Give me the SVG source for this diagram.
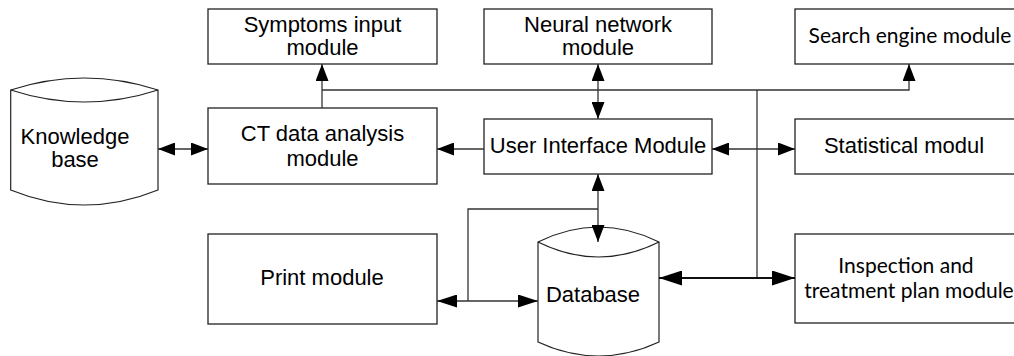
<svg xmlns="http://www.w3.org/2000/svg" width="1014" height="356" viewBox="0 0 1014 356">
<style>
.box{fill:#fff;stroke:#222;stroke-width:1.3}
.cyl{fill:#fff;stroke:#222;stroke-width:1.2}
.t{font-family:"Liberation Sans",Arial,sans-serif;font-size:22px;fill:#000;text-anchor:middle}
.c{font-family:Lato,"Open Sans",sans-serif;font-size:21px;fill:#000;text-anchor:middle}
.ln{fill:none;stroke:#333;stroke-width:1.3}
.thick{fill:none;stroke:#111;stroke-width:2.2}
</style>
<defs>
<marker id="ah" markerUnits="userSpaceOnUse" markerWidth="17" markerHeight="13" refX="17" refY="6.5" orient="auto-start-reverse"><path d="M0,0 L17,6.5 L0,13 Z" fill="#000"/></marker>
<marker id="ahL" markerUnits="userSpaceOnUse" markerWidth="20" markerHeight="13" refX="20" refY="6.5" orient="auto-start-reverse"><path d="M0,0 L20,6.5 L0,13 Z" fill="#000"/></marker>
<marker id="ahT" markerUnits="userSpaceOnUse" markerWidth="23" markerHeight="15" refX="23" refY="7.5" orient="auto-start-reverse"><path d="M0,0 L23,7.5 L0,15 Z" fill="#000"/></marker>
</defs>
<rect width="1014" height="356" fill="#fff"/>

<g id="knowledge-base">
<path class="cyl" d="M10.7,90 Q84.3,66 158,90 L158,190 Q84.3,220 10.7,190 Z"/>
<path class="cyl" d="M10.7,90 Q84.3,114 158,90" fill="none"/>
<text class="t" x="75" y="144">Knowledge</text>
<text class="t" x="75" y="167">base</text>
</g>

<g id="symptoms">
<rect class="box" x="208" y="9" width="229" height="55"/>
<text class="t" x="322.5" y="32">Symptoms input</text>
<text class="t" x="322.5" y="55">module</text>
</g>

<g id="neural">
<rect class="box" x="484" y="9" width="228" height="55"/>
<text class="t" x="598" y="32">Neural network</text>
<text class="t" x="598" y="55">module</text>
</g>

<g id="search">
<rect class="box" x="795" y="9" width="222" height="55"/>
<text class="c" x="910" y="43">Search engine module</text>
</g>

<g id="ct">
<rect class="box" x="208" y="108" width="229" height="76"/>
<text class="t" x="322.5" y="141">CT data analysis</text>
<text class="t" x="322.5" y="166">module</text>
</g>

<g id="ui">
<rect class="box" x="484" y="119" width="228" height="55"/>
<text class="t" x="598" y="153">User Interface Module</text>
</g>

<g id="statistical">
<rect class="box" x="795" y="119" width="222" height="55"/>
<text class="t" x="904" y="153">Statistical modul</text>
</g>

<g id="print">
<rect class="box" x="208" y="234" width="229" height="90"/>
<text class="t" x="322" y="285">Print module</text>
</g>

<g id="database">
<path class="cyl" d="M538,242 Q598.5,212 659,242 L659,342 Q598.5,370 538,342 Z"/>
<path class="cyl" d="M538,242 Q598.5,272 659,242" fill="none"/>
<text class="t" x="593" y="302">Database</text>
</g>

<g id="inspection">
<rect class="box" x="795" y="234" width="222" height="89"/>
<text class="c" x="906" y="273">Inspection and</text>
<text class="c" x="909" y="298">treatment plan module</text>
</g>

<g id="connectors">
<line class="ln" x1="158" y1="149" x2="208" y2="149" marker-start="url(#ah)" marker-end="url(#ah)"/>
<line class="ln" x1="484" y1="149" x2="437" y2="149" marker-end="url(#ah)"/>
<line class="ln" x1="322" y1="108" x2="322" y2="64" marker-end="url(#ah)"/>
<polyline class="ln" points="322,90 909,90 909,64" marker-end="url(#ah)"/>
<line class="ln" x1="598" y1="64" x2="598" y2="119" marker-start="url(#ah)" marker-end="url(#ah)"/>
<line class="ln" x1="757" y1="90" x2="757" y2="278"/>
<line class="ln" x1="712" y1="149" x2="795" y2="149" marker-start="url(#ah)" marker-end="url(#ah)"/>
<line class="ln" x1="598" y1="174" x2="598" y2="242" marker-start="url(#ah)" marker-end="url(#ah)"/>
<polyline class="ln" points="598,209 468,209 468,301"/>
<line class="ln" x1="437" y1="301" x2="538" y2="301" marker-start="url(#ahL)" marker-end="url(#ahL)"/>
<line class="thick" x1="659" y1="278" x2="795" y2="278" marker-start="url(#ahT)" marker-end="url(#ahT)"/>
</g>
</svg>
